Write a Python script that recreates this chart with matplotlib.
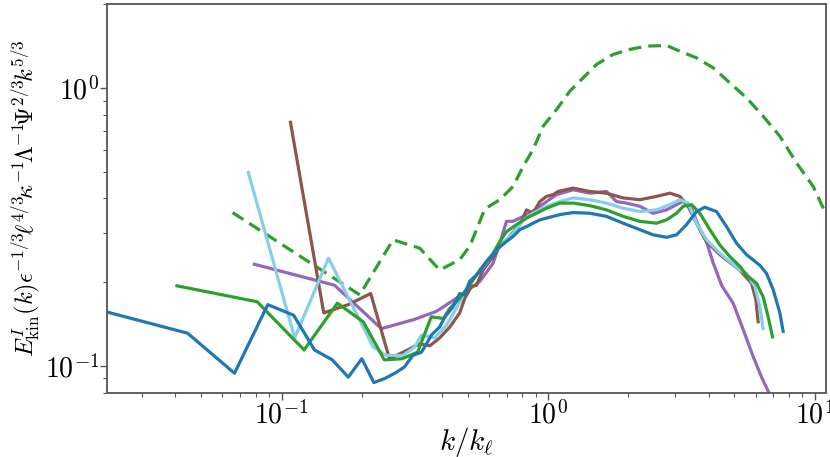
import matplotlib
matplotlib.use("Agg")
import matplotlib.pyplot as plt
from matplotlib.ticker import FuncFormatter, LogLocator, NullFormatter
import math

plt.rcParams['mathtext.fontset'] = 'cm'
plt.rcParams['font.family'] = ['DejaVu Serif']

# ---- data ----
k_blue = [0.0222, 0.0444, 0.0666, 0.0888, 0.111, 0.133, 0.155, 0.178, 0.200, 0.222, 0.244, 0.266,
          0.289, 0.311, 0.335, 0.350, 0.365, 0.392, 0.410, 0.440, 0.466, 0.487, 0.508, 0.554, 0.587,
          0.622, 0.649, 0.698, 0.739, 0.783, 0.830, 0.878, 0.931, 0.986, 1.106, 1.241, 1.434, 1.656,
          1.911, 2.208, 2.477, 2.782, 3.032, 3.306, 3.604, 3.873, 4.284, 4.671, 5.093, 5.553, 6.229,
          6.599, 6.988, 7.403, 7.617]
E_blue = [0.156, 0.131, 0.094, 0.166, 0.152, 0.114, 0.105, 0.091, 0.106, 0.087, 0.090, 0.094,
          0.099, 0.109, 0.112, 0.120, 0.129, 0.138, 0.150, 0.163, 0.182, 0.180, 0.201, 0.218, 0.237,
          0.251, 0.265, 0.280, 0.292, 0.309, 0.317, 0.326, 0.335, 0.340, 0.350, 0.356, 0.354, 0.345,
          0.326, 0.309, 0.296, 0.290, 0.296, 0.322, 0.359, 0.372, 0.359, 0.317, 0.276, 0.251, 0.230,
          0.215, 0.188, 0.155, 0.133]

k_green = [0.0405, 0.081, 0.1215, 0.162, 0.2025, 0.243, 0.2835, 0.324, 0.3645, 0.405, 0.428, 0.466,
           0.508, 0.554, 0.622, 0.659, 0.698, 0.761, 0.830, 0.905, 0.986, 1.106, 1.241, 1.434, 1.656,
           1.911, 2.208, 2.551, 2.782, 3.032, 3.211, 3.452, 3.710, 4.045, 4.410, 4.807, 5.241, 5.553,
           6.053, 6.410, 6.692, 6.950]
E_green = [0.194, 0.170, 0.114, 0.168, 0.144, 0.105, 0.106, 0.112, 0.150, 0.148, 0.161, 0.175,
           0.195, 0.221, 0.254, 0.280, 0.304, 0.322, 0.340, 0.354, 0.369, 0.385, 0.385, 0.377, 0.364,
           0.345, 0.331, 0.326, 0.335, 0.354, 0.375, 0.380, 0.354, 0.309, 0.272, 0.247, 0.228, 0.212,
           0.198, 0.177, 0.150, 0.127]

k_purple = [0.079, 0.158, 0.237, 0.316, 0.381, 0.453, 0.523, 0.554, 0.622, 0.659, 0.698, 0.739,
            0.854, 0.931, 1.075, 1.241, 1.434, 1.656, 1.806, 1.969, 2.208, 2.477, 2.782, 3.032,
            3.211, 3.452, 3.710, 3.929, 4.160, 4.485, 4.945, 5.394, 5.878, 6.322, 6.692]
E_purple = [0.232, 0.195, 0.136, 0.147, 0.157, 0.175, 0.193, 0.201, 0.234, 0.276, 0.331, 0.331,
            0.354, 0.375, 0.413, 0.430, 0.418, 0.424, 0.390, 0.385, 0.375, 0.354, 0.364, 0.380,
            0.390, 0.369, 0.309, 0.279, 0.235, 0.194, 0.168, 0.135, 0.108, 0.091, 0.081]

k_brown = [0.108, 0.144, 0.178, 0.216, 0.254, 0.286, 0.330, 0.360, 0.392, 0.428, 0.466, 0.487,
           0.516, 0.539, 0.570, 0.622, 0.659, 0.708, 0.783, 0.830, 0.878, 0.931, 0.986, 1.044,
           1.09, 1.241, 1.434, 1.656, 1.911, 2.208, 2.551, 2.862, 3.121, 3.352, 3.604, 3.929,
           4.410, 5.241, 5.799, 6.017, 6.138]
E_brown = [0.752, 0.155, 0.166, 0.182, 0.106, 0.112, 0.120, 0.118, 0.126, 0.138, 0.155, 0.175,
           0.193, 0.195, 0.221, 0.247, 0.269, 0.288, 0.322, 0.364, 0.354, 0.390, 0.407, 0.413,
           0.424, 0.436, 0.424, 0.418, 0.402, 0.396, 0.407, 0.418, 0.407, 0.375, 0.326, 0.280,
           0.251, 0.221, 0.198, 0.173, 0.144]

k_sky = [0.075, 0.112, 0.150, 0.2205, 0.2474, 0.2857, 0.316, 0.335, 0.3757, 0.4156, 0.4531, 0.508,
         0.554, 0.604, 0.659, 0.739, 0.806, 0.878, 0.986, 1.106, 1.241, 1.434, 1.656, 1.911, 2.208,
         2.551, 2.862, 3.121, 3.352, 3.604, 3.929, 4.410, 5.241, 5.553, 5.966, 6.229, 6.410]
E_sky = [0.497, 0.126, 0.244, 0.117, 0.109, 0.109, 0.117, 0.129, 0.126, 0.140, 0.161, 0.201,
         0.218, 0.244, 0.269, 0.300, 0.335, 0.354, 0.375, 0.390, 0.402, 0.396, 0.385, 0.369, 0.359,
         0.364, 0.380, 0.396, 0.385, 0.326, 0.284, 0.254, 0.221, 0.215, 0.193, 0.163, 0.136]

k_dash = [0.0655, 0.1965, 0.262, 0.330, 0.392, 0.466, 0.508, 0.579, 0.659, 0.739, 0.806, 0.878,
          0.958, 1.075, 1.206, 1.353, 1.519, 1.754, 2.026, 2.340, 2.782, 3.121, 3.604, 4.160,
          4.807, 5.553, 6.410, 7.403, 8.554, 9.872, 10.92, 11.9]
E_dash = [0.356, 0.180, 0.284, 0.265, 0.221, 0.241, 0.269, 0.367, 0.396, 0.442, 0.522, 0.600,
          0.728, 0.836, 0.973, 1.087, 1.215, 1.320, 1.376, 1.414, 1.422, 1.356, 1.283, 1.182,
          1.043, 0.921, 0.791, 0.670, 0.537, 0.442, 0.359, 0.31]

fig = plt.figure(figsize=(8.30, 4.57), dpi=100)
ax = fig.add_axes([0.1293, 0.1407, 0.8655, 0.8499])

lw = 2.3
ax.plot(k_dash, E_dash, color='#2ca02c', lw=lw, ls='--', dashes=(4, 2.2))
ax.plot(k_purple, E_purple, color='#9467bd', lw=lw)
ax.plot(k_brown, E_brown, color='#8c564b', lw=lw)
ax.plot(k_sky, E_sky, color='#87ceeb', lw=lw)
ax.plot(k_green, E_green, color='#2ca02c', lw=lw)
ax.plot(k_blue, E_blue, color='#1f77b4', lw=lw)

ax.set_xscale('log')
ax.set_yscale('log')
ax.set_xlim(0.0222, 11.0)
ax.set_ylim(0.08, 2.0)


def pow10(v, pos):
    if v <= 0:
        return ''
    e = int(round(math.log10(v)))
    return r'$10^{%d}$' % e


for axis in (ax.xaxis, ax.yaxis):
    axis.set_major_locator(LogLocator(base=10))
    axis.set_major_formatter(FuncFormatter(pow10))
    axis.set_minor_formatter(NullFormatter())

for s in ax.spines.values():
    s.set_color('#555555')
    s.set_linewidth(1.3)
ax.tick_params(which='both', colors='#555555', labelcolor='black', labelsize=20)
ax.tick_params(which='major', length=5, width=1.0, pad=1)
ax.tick_params(which='minor', length=3, width=0.8)

ax.set_xlabel(r'$k/k_\ell$', fontsize=21)
ax.xaxis.set_label_coords(0.5, -0.083)
ax.set_ylabel(r'$E^{I}_{\rm kin}(k)\epsilon^{-1/3}\!\ell^{4/3}\!\kappa^{-1}\!\Lambda^{-1}\!\Psi^{2/3}\!k^{5/3}$',
              fontsize=17.5)
ax.yaxis.set_label_coords(-0.091, 0.5)

fig.savefig('out.png', dpi=100)
